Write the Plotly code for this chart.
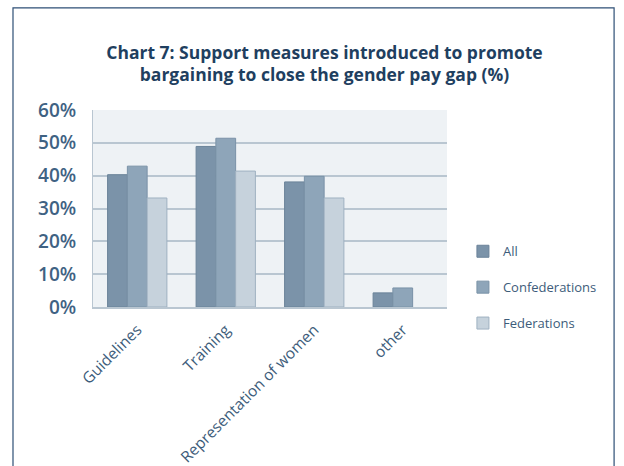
import plotly.graph_objects as go

categories = ["Guidelines", "Training", "Representation of women", "other"]
all_vals = [40.3, 48.9, 38.1, 4.3]
confed_vals = [42.9, 51.4, 39.8, 5.8]
fed_vals = [33.2, 41.4, 33.2, None]

series = [
    ("All", all_vals, "#7b93a9", "#6b8399"),
    ("Confederations", confed_vals, "#8ea5b9", "#7a92a7"),
    ("Federations", fed_vals, "#c6d2dc", "#9fb1c1"),
]

fig = go.Figure()
for name, vals, color, line in series:
    fig.add_trace(go.Bar(
        x=categories, y=vals, name=name, legendgroup=name,
        marker=dict(color=color, line=dict(color=line, width=1)),
    ))

fig.update_layout(
    width=624, height=466,
    paper_bgcolor="white",
    plot_bgcolor="#eef2f5",
    font=dict(family="Open Sans, sans-serif", color="#4b6a88"),
    title=dict(
        text="<b>Chart 7: Support measures introduced to promote<br>bargaining to close the gender pay gap (%)</b>",
        x=0.52, xanchor="center", y=0.874, yanchor="middle",
        font=dict(size=17.5, color="#1f3f60"),
    ),
    barmode="group", bargap=0.33, bargroupgap=0,
    margin=dict(l=93, r=177, t=110, b=159),
    legend=dict(
        x=1.045, y=0.1, xanchor="left", yanchor="middle",
        font=dict(size=13, color="#3d5c7a"),
        tracegroupgap=16, itemwidth=30,
        traceorder="grouped", bgcolor="rgba(0,0,0,0)",
    ),
    shapes=[dict(
        type="rect", xref="paper", yref="paper",
        x0=-0.226, x1=1.472, y0=-0.9, y1=1.518,
        line=dict(color="#2e4f76", width=1.2), layer="below",
    )],
)
fig.update_yaxes(
    range=[0, 60], dtick=10, ticksuffix="%", automargin=False,
    tickfont=dict(size=19, color="#3f6283", weight=600),
    ticklabelstandoff=12,
    gridcolor="#b9c6d1", gridwidth=1.5,
    showline=True, linecolor="#b9c6d1", zeroline=False,
)
fig.update_xaxes(
    tickangle=-45, tickfont=dict(size=15.5, color="#3d5c7a"), automargin=False,
    ticklabelstandoff=6,
    showline=True, linecolor="#b9c6d1", linewidth=1.5,
)

# drop the browser's default 8px body margin so the figure fills the window
fig.write_html("out.html", config={"displayModeBar": False},
               post_script="document.body.style.margin='0';")
